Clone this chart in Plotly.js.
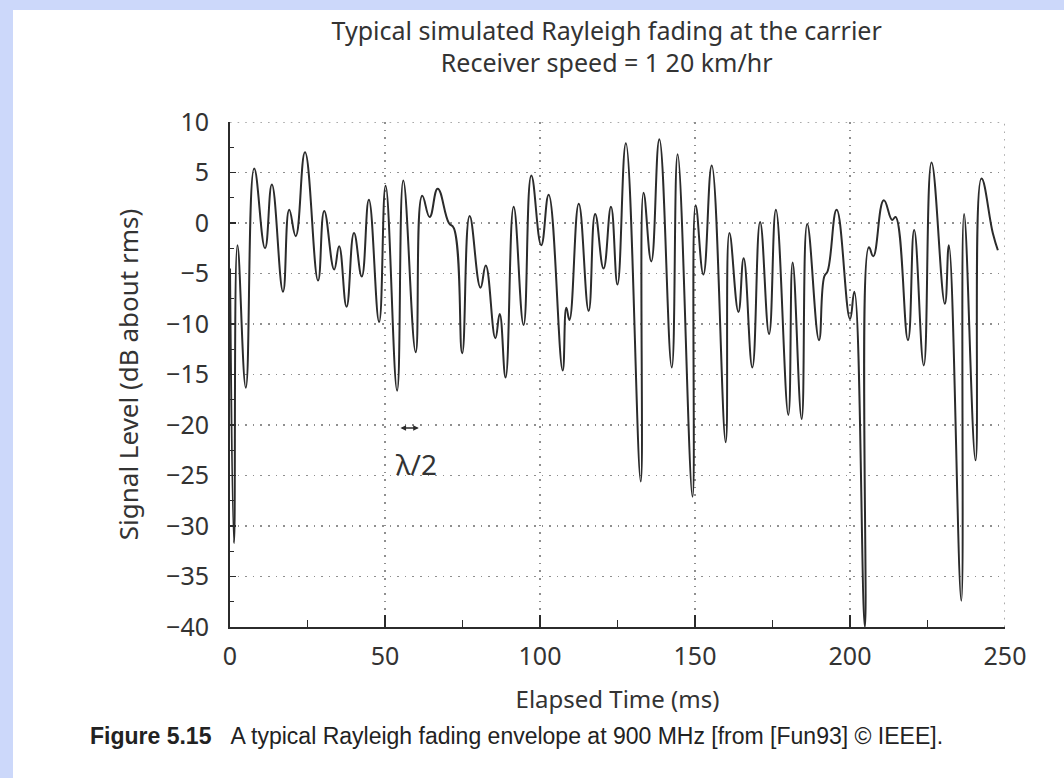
<!DOCTYPE html>
<html>
<head>
<meta charset="utf-8">
<script src="https://cdn.plot.ly/plotly-3.0.1.min.js"></script>
<style>
  html, body { margin: 0; padding: 0; background: #ccd8fa; width: 1064px; height: 778px; overflow: hidden; }
  #chart { position: absolute; left: 13px; top: 10px; width: 1051px; height: 768px; background: #ffffff; }
</style>
</head>
<body>
<div id="chart"></div>
<script>
// Elapsed time (ms) of the curve's turning points
const timeMs = [
  0.0, 1.3, 2.4, 5.1, 7.8, 11.3, 13.5, 17.1, 19.1, 21.2,
  24.2, 28.4, 30.4, 33.6, 35.2, 37.6, 40.0, 42.5, 44.8, 48.1,
  50.2, 53.9, 55.9, 59.9, 62.0, 64.4, 67.0, 70.6, 72.2, 74.9,
  77.3, 80.8, 82.5, 85.6, 87.0, 88.9, 91.5, 94.7, 97.2, 100.4,
  102.8, 107.3, 108.5, 109.5, 112.5, 115.7, 117.8, 120.5, 122.9, 125.0,
  127.7, 132.5, 133.4, 135.9, 138.5, 142.5, 144.4, 149.2, 150.2, 152.7,
  155.4, 159.9, 161.1, 164.0, 165.7, 168.5, 171.0, 173.9, 176.1, 180.1,
  181.5, 184.4, 186.2, 190.0, 191.7, 192.8, 195.7, 200.0, 201.4, 204.8,
  206.1, 207.5, 210.9, 213.6, 214.7, 218.7, 220.7, 223.8, 226.3, 230.6,
  231.9, 235.9, 236.8, 240.5, 242.4, 246.1, 247.7
];
// Signal level (dB about rms) at those points
const levelDb = [
  -4.5, -31.7, -2.2, -16.3, 5.4, -2.5, 3.8, -6.8, 1.3, -1.3,
  7.0, -5.7, 1.2, -4.6, -2.3, -8.3, -1.0, -5.3, 2.3, -9.8,
  3.7, -16.6, 4.2, -12.8, 2.7, 0.6, 3.4, 0.0, -0.5, -12.9,
  0.7, -6.4, -4.2, -11.4, -9.0, -15.3, 1.6, -10.1, 4.7, -2.2,
  2.8, -14.6, -8.4, -9.6, 1.9, -8.7, 0.9, -4.5, 1.6, -6.1,
  7.9, -25.6, 3.0, -3.8, 8.3, -14.3, 6.8, -27.1, 1.75, -5.1,
  5.7, -21.7, -1.0, -8.8, -3.5, -14.3, 0.1, -11.0, 1.3, -19.0,
  -3.9, -19.4, -0.1, -11.6, -5.3, -4.75, 1.3, -9.5, -6.8, -40.0,
  -2.4, -3.3, 2.25, 0.3, 0.6, -11.6, -0.7, -14.1, 6.0, -8.0,
  -2.2, -37.4, 0.9, -23.5, 4.4, -1.05, -2.7
];
const xTickVals = [0, 50, 100, 150, 200, 250];
const yTickVals = [10, 5, 0, -5, -10, -15, -20, -25, -30, -35, -40];
const yTickText = ['10', '5', '0', '\u22125', '\u221210', '\u221215', '\u221220', '\u221225', '\u221230', '\u221235', '\u221240'];
const xRange = [0, 250];
const yRange = [-40, 10];
const halfWaveX = [54.5, 60.9];
const halfWaveY = -20.3;
const halfWaveLabel = '\u03bb/2';
const halfWaveLabelPos = [60.0, -23.9];

const ink = '#2b2b2b';
const txt = '#333333';
const gridCol = '#8f8f8f';
const gridDash = '1.6px,6px';
const fontFam = 'Noto Sans, DejaVu Sans, sans-serif';

const trace = {
  x: timeMs, y: levelDb, type: 'scatter', mode: 'lines',
  line: { color: ink, width: 2, shape: 'spline', smoothing: 1.3 },
  hoverinfo: 'skip', showlegend: false
};

const layout = {
  width: 1051, height: 768,
  margin: { l: 217, r: 59, t: 112, b: 151 },
  paper_bgcolor: '#ffffff', plot_bgcolor: '#ffffff',
  font: { family: fontFam, color: txt, size: 24 },
  showlegend: false,
  title: {
    text: 'Typical simulated Rayleigh fading at the carrier<br>Receiver speed = 1 20 km/hr',
    font: { family: fontFam, size: 25, color: txt },
    xref: 'paper', x: 0.486, xanchor: 'center',
    yref: 'container', y: 0.961, yanchor: 'middle'
  },
  xaxis: {
    range: xRange, tickvals: xTickVals, ticks: 'inside', ticklen: 12, tickwidth: 1.5, tickcolor: ink,
    minor: { dtick: 25, tick0: 0, ticks: 'inside', ticklen: 7, tickwidth: 1.5, tickcolor: ink, showgrid: false },
    showline: true, linecolor: ink, linewidth: 2, mirror: false,
    showgrid: true, gridcolor: gridCol, griddash: gridDash, gridwidth: 1.5,
    zeroline: false, ticklabelstandoff: 6,
    tickfont: { family: fontFam, size: 25, color: txt },
    title: { text: 'Elapsed Time (ms)', font: { family: fontFam, size: 24, color: txt }, standoff: 20 }
  },
  yaxis: {
    range: yRange, tickvals: yTickVals, ticktext: yTickText, ticks: 'inside', ticklen: 6, tickwidth: 1.5, tickcolor: ink,
    minor: { dtick: 2.5, tick0: 0, ticks: 'inside', ticklen: 4, tickwidth: 1.2, tickcolor: ink, showgrid: false },
    showline: true, linecolor: ink, linewidth: 2, mirror: false,
    showgrid: true, gridcolor: gridCol, griddash: gridDash, gridwidth: 1.5,
    zeroline: false, ticklabelstandoff: 14,
    tickfont: { family: fontFam, size: 25, color: txt },
    title: { text: 'Signal Level (dB about rms)', font: { family: fontFam, size: 26, color: txt }, standoff: 20 }
  },
  shapes: [
    { type: 'line', xref: 'x', yref: 'y', x0: xRange[0], x1: xRange[1], y0: yRange[1], y1: yRange[1],
      line: { color: gridCol, width: 1.5, dash: gridDash }, layer: 'below' },
    { type: 'line', xref: 'x', yref: 'y', x0: xRange[1], x1: xRange[1], y0: yRange[0], y1: yRange[1],
      line: { color: gridCol, width: 1.5, dash: gridDash }, layer: 'below' }
  ],
  annotations: [
    {
      x: halfWaveX[1], y: halfWaveY, ax: halfWaveX[0], ay: halfWaveY,
      xref: 'x', yref: 'y', axref: 'x', ayref: 'y',
      text: '', showarrow: true, arrowhead: 2, startarrowhead: 2, arrowside: 'end+start',
      arrowsize: 0.7, startarrowsize: 0.7, arrowwidth: 1.6, arrowcolor: ink, standoff: 0, startstandoff: 0
    },
    {
      x: halfWaveLabelPos[0], y: halfWaveLabelPos[1], xref: 'x', yref: 'y',
      text: halfWaveLabel, showarrow: false, font: { family: fontFam, size: 28, color: txt },
      xanchor: 'center', yanchor: 'middle'
    },
    {
      xref: 'paper', yref: 'paper', x: -0.183, y: -0.216, xanchor: 'left', yanchor: 'middle',
      showarrow: false, align: 'left',
      text: '<b>Figure 5.15</b>\u00a0\u00a0\u00a0A typical Rayleigh fading envelope at 900 MHz [from [Fun93] \u00a9 IEEE].',
      font: { family: 'Liberation Sans, Arial, sans-serif', size: 23, color: '#222222' }
    }
  ]
};

Plotly.newPlot('chart', [trace], layout, { displayModeBar: false, staticPlot: true });
</script>
</body>
</html>
